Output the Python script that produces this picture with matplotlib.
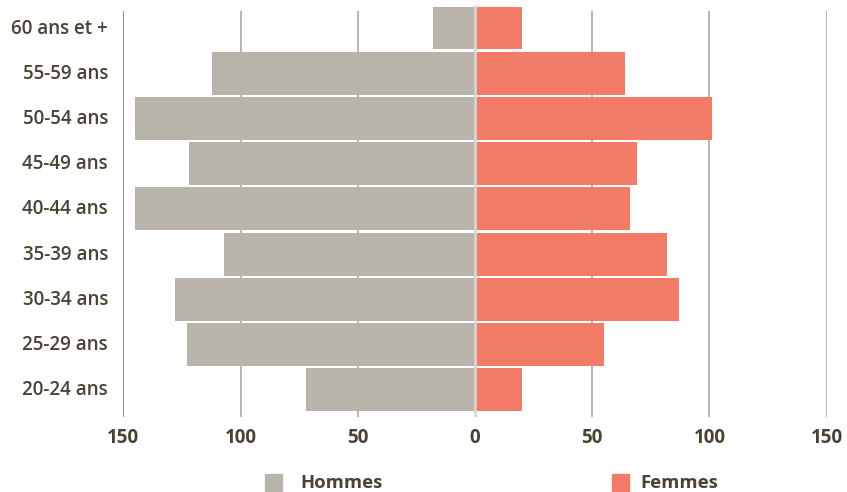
import matplotlib
matplotlib.use("Agg")
import matplotlib.pyplot as plt
from matplotlib.patches import Rectangle
from matplotlib.transforms import ScaledTranslation

categories = ["20-24 ans", "25-29 ans", "30-34 ans", "35-39 ans", "40-44 ans",
              "45-49 ans", "50-54 ans", "55-59 ans", "60 ans et +"]
hommes = [72, 123, 128, 107, 145, 122, 145, 112, 18]
femmes = [20, 55, 87, 82, 66, 69, 101, 64, 20]
xticks = [-150, -100, -50, 0, 50, 100, 150]
xtick_labels = ["150", "100", "50", "0", "50", "100", "150"]

C_H = "#b8b4ac"
C_F = "#f27c68"
TXT = "#4b4233"
GRID = "#a8a296"
AXL = "#7a7068"
ZERO = "#d6d6d2"
FONT = ["Open Sans", "DejaVu Sans"]

W, H = 847, 492
fig = plt.figure(figsize=(W / 100, H / 100), dpi=100)
ax = fig.add_axes([123.3 / W, (H - 416.7) / H, (826.7 - 123.3) / W, (416.7 - 5) / H])

y = list(range(len(categories)))
ax.barh(y, [-v for v in hommes], height=0.95, color=C_H, zorder=2)
ax.barh(y, femmes, height=0.95, color=C_F, zorder=2)

ax.set_xlim(-150, 150)
ymin, ymax = -0.597, 8.509
ax.set_ylim(ymin, ymax)
ytop_grid = 8.383
for xv in [-100, -50, 50, 100, 150]:
    ax.vlines(xv, ymin, ytop_grid, color=GRID, lw=1.1, zorder=1)
ax.vlines(-150, ymin, ytop_grid, color=AXL, lw=1.1, zorder=1)
ax.vlines(0, ymin, ymax, color=ZERO, lw=2.0, zorder=3)

for s in ax.spines.values():
    s.set_visible(False)

ax.set_xticks(xticks)
ax.set_xticklabels(xtick_labels, fontsize=13.5, fontweight="bold", color=TXT, family=FONT)
ax.set_yticks(y)
ax.set_yticklabels(categories, fontsize=13.5, fontweight="semibold", color=TXT, family=FONT)
ax.tick_params(axis="x", length=0, pad=8)
ax.tick_params(axis="y", length=0, pad=11)
shift = ScaledTranslation(0, 2 / 100, fig.dpi_scale_trans)
for lbl in ax.get_yticklabels():
    lbl.set_transform(lbl.get_transform() + shift)

# legend
sq = 17
for x0, xt, lab, col in [(265, 300, "Hommes", C_H), (612, 640, "Femmes", C_F)]:
    fig.patches.append(Rectangle((x0 / W, (H - 491) / H), sq / W, sq / H,
                                 transform=fig.transFigure, color=col))
    fig.text(xt / W, (H - 483) / H, lab, fontsize=13.3, fontweight="bold", color=TXT,
             family=FONT, va="center", ha="left")

fig.savefig("out.png", dpi=100)
